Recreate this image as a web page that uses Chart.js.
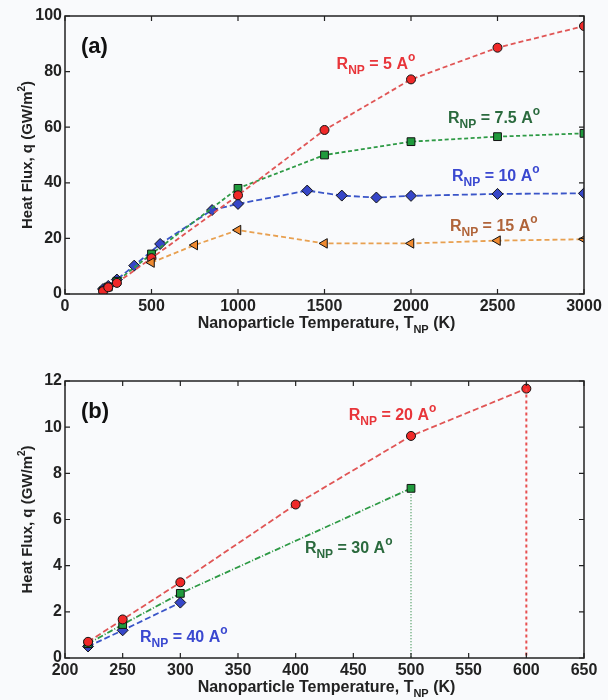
<!DOCTYPE html>
<html>
<head>
<meta charset="utf-8">
<script src="https://cdn.jsdelivr.net/npm/chart.js@4"></script>
<style>
  body { margin:0; background:#f9fafc; }
  .panel { position:absolute; left:0; width:608px; }
  canvas { display:block; }
</style>
</head>
<body>
<div class="panel" style="top:0;height:340px"><canvas id="chartA" width="608" height="340"></canvas></div>
<div class="panel" style="top:340px;height:360px"><canvas id="chartB" width="608" height="360"></canvas></div>
<script>
// ----------------- DATA (a) -----------------
const aTicksX = [0, 500, 1000, 1500, 2000, 2500, 3000];
const aTicksY = [0, 20, 40, 60, 80, 100];

const a5T  = [220, 250, 300, 500, 1000, 1500, 2000, 2500, 3000];
const a5Q  = [1.0, 2.4, 4.0, 12.9, 35.5, 59.0, 77.2, 88.6, 96.4];
const a75T = [220, 250, 300, 500, 1000, 1500, 2000, 2500, 3000];
const a75Q = [1.1, 2.5, 4.6, 14.4, 38.0, 50.0, 54.8, 56.6, 57.8];
const a10T = [220, 250, 300, 400, 550, 850, 1000, 1400, 1600, 1800, 2000, 2500, 3000];
const a10Q = [1.8, 2.9, 5.2, 10.2, 18.0, 30.2, 32.4, 37.2, 35.4, 34.7, 35.3, 36.0, 36.2];
const a15T = [500, 750, 1000, 1500, 2000, 2500, 3000];
const a15Q = [11.3, 17.6, 23.0, 18.2, 18.2, 19.2, 19.7];

// ----------------- DATA (b) -----------------
const bTicksX = [200, 250, 300, 350, 400, 450, 500, 550, 600, 650];
const bTicksY = [0, 2, 4, 6, 8, 10, 12];

const b20T = [220, 250, 300, 400, 500, 600];
const b20Q = [0.70, 1.67, 3.28, 6.65, 9.62, 11.67];
const b30T = [220, 250, 300, 500];
const b30Q = [0.62, 1.45, 2.80, 7.35];
const b40T = [220, 250, 300];
const b40Q = [0.50, 1.20, 2.40];

const pts = (xs, ys) => xs.map((x, i) => ({ x: x, y: ys[i] }));
// linea vertical desde el ultimo punto hasta el eje
const drop = (xs, ys) => [{ x: xs[xs.length-1], y: ys[ys.length-1] }, { x: xs[xs.length-1], y: 0 }];

const FONT = '"Liberation Sans", Arial, sans-serif';

// ----------------- PLUGIN: marco, ticks internos, textos -----------------
function rich(ctx, x, y, parts, color){
  ctx.save();
  ctx.fillStyle = color;
  ctx.textBaseline = 'alphabetic';
  ctx.textAlign = 'left';
  let cx = x;
  parts.forEach(p => {
    ctx.font = 'bold ' + p[1] + 'px ' + FONT;
    ctx.fillText(p[0], cx, y + (p[2] || 0));
    cx += ctx.measureText(p[0]).width;
  });
  ctx.restore();
  return cx - x;
}
function richWidth(ctx, parts){
  let w = 0;
  parts.forEach(p => { ctx.font = 'bold ' + p[1] + 'px ' + FONT; w += ctx.measureText(p[0]).width; });
  return w;
}

const framePlugin = {
  id: 'frame',
  afterDraw(chart, args, opts){
    const ctx = chart.ctx, ca = chart.chartArea;
    const sx = chart.scales.x, sy = chart.scales.y;
    ctx.save();
    ctx.strokeStyle = '#222';
    ctx.lineWidth = 1.5;
    ctx.strokeRect(ca.left, ca.top, ca.right - ca.left, ca.bottom - ca.top);
    ctx.lineWidth = 1.2;
    ctx.beginPath();
    opts.ticksX.forEach(v => {
      const px = sx.getPixelForValue(v);
      ctx.moveTo(px, ca.bottom); ctx.lineTo(px, ca.bottom - 5);
      ctx.moveTo(px, ca.top); ctx.lineTo(px, ca.top + 5);
    });
    opts.ticksY.forEach(v => {
      const py = sy.getPixelForValue(v);
      ctx.moveTo(ca.left, py); ctx.lineTo(ca.left + 5, py);
      ctx.moveTo(ca.right, py); ctx.lineTo(ca.right - 5, py);
    });
    ctx.stroke();
    ctx.restore();

    // titulo eje x
    const xt = [['Nanoparticle Temperature, T', 16], ['NP', 11, 5], [' (K)', 16]];
    const wx = richWidth(ctx, xt);
    rich(ctx, (ca.left + ca.right)/2 - wx/2 + 2, ca.bottom + opts.xTitleDy, xt, '#222');

    // titulo eje y
    const yt = [['Heat Flux, q (GW/m', 15], ['2', 10, -7], [')', 15]];
    const wy = richWidth(ctx, yt);
    ctx.save();
    ctx.translate(32, (ca.top + ca.bottom)/2);
    ctx.rotate(-Math.PI/2);
    rich(ctx, -wy/2, 0, yt, '#222');
    ctx.restore();

    // etiqueta del panel
    rich(ctx, ca.left + 16, ca.top + opts.tagDy, [[opts.tag, 22]], '#111');

    // anotaciones R_NP
    opts.notes.forEach(n => {
      const px = sx.getPixelForValue(n.x), py = sy.getPixelForValue(n.y);
      rich(ctx, px, py, [['R', 16], ['NP', 12, 5], [' = ' + n.txt + ' A', 16], ['o', 12, -8]], n.color);
    });
  }
};

function serie(data, color, edge, style, rot, r, dash){
  return {
    data: data,
    borderColor: color,
    backgroundColor: edge,
    pointBackgroundColor: edge,
    pointBorderColor: '#111',
    pointBorderWidth: 1,
    pointStyle: style,
    pointRotation: rot,
    pointRadius: r,
    borderWidth: 1.8,
    borderDash: dash,
    showLine: true,
    tension: 0
  };
}
function linea(data, color, dash, w){
  return { data: data, borderColor: color, borderDash: dash, borderWidth: w, pointRadius: 0, showLine: true, tension: 0 };
}

function opciones(xMin, xMax, xStep, yMin, yMax, yStep, padTop, xH, plug){
  const tickFont = { family: FONT, size: 16, weight: 'bold' };
  return {
    responsive: false,
    animation: false,
    layout: { padding: { left: 0, right: 24, top: padTop, bottom: 0 } },
    plugins: { legend: { display: false }, tooltip: { enabled: false }, frame: plug },
    scales: {
      x: {
        type: 'linear', min: xMin, max: xMax,
        grid: { display: false, drawTicks: false, tickLength: 0 }, border: { display: false },
        ticks: { stepSize: xStep, padding: 3, color: '#222', font: tickFont, maxRotation: 0, callback: v => String(v) },
        afterFit: s => { s.height = xH; }
      },
      y: {
        min: yMin, max: yMax,
        grid: { display: false, drawTicks: false, tickLength: 0 }, border: { display: false },
        ticks: { stepSize: yStep, padding: 3, color: '#222', font: tickFont, callback: v => String(v) },
        afterFit: s => { s.width = 65; }
      }
    }
  };
}

// ----------------- GRAFICO (a) -----------------
new Chart(document.getElementById('chartA'), {
  type: 'scatter',
  data: {
    datasets: [
      serie(pts(a15T, a15Q), '#e8a050', '#f08a30', 'triangle', -90, 5.5, [5, 3]),
      serie(pts(a5T, a5Q), '#e05555', '#f02828', 'circle', 0, 4.5, [5, 3]),
      serie(pts(a75T, a75Q), '#2e9a45', '#1f9a3c', 'rect', 0, 5.5, [4, 2.5]),
      serie(pts(a10T, a10Q), '#3a55c8', '#3646c8', 'rectRot', 0, 5.5, [6, 3])
    ]
  },
  options: opciones(0, 3000, 500, 0, 100, 20, 16, 46, {
    ticksX: aTicksX, ticksY: aTicksY, tag: '(a)', tagDy: 37, xTitleDy: 34,
    notes: [
      { x: 1570, y: 81, txt: '5', color: '#e8353a' },
      { x: 2214, y: 61.5, txt: '7.5', color: '#2b6a3e' },
      { x: 2237, y: 40.5, txt: '10', color: '#3a48d0' },
      { x: 2225, y: 22.5, txt: '15', color: '#b0643a' }
    ]
  }),
  plugins: [framePlugin]
});

// ----------------- GRAFICO (b) -----------------
new Chart(document.getElementById('chartB'), {
  type: 'scatter',
  data: {
    datasets: [
      linea(drop(b20T, b20Q), '#e85050', [3, 3], 2),
      linea(drop(b30T, b30Q), '#2e8a45', [1, 2], 1.2),
      serie(pts(b20T, b20Q), '#e05555', '#f02828', 'circle', 0, 4.5, [6, 3]),
      serie(pts(b30T, b30Q), '#2e9a45', '#1f9a3c', 'rect', 0, 5.5, [6, 2, 1, 2]),
      serie(pts(b40T, b40Q), '#3a55c8', '#3646c8', 'rectRot', 0, 5.5, [6, 3])
    ]
  },
  options: opciones(200, 650, 50, 0, 12, 2, 41, 42, {
    ticksX: bTicksX, ticksY: bTicksY, tag: '(b)', tagDy: 37, xTitleDy: 34,
    notes: [
      { x: 446, y: 10.3, txt: '20', color: '#e8353a' },
      { x: 408, y: 4.55, txt: '30', color: '#2b6a3e' },
      { x: 265, y: 0.7, txt: '40', color: '#3a48d0' }
    ]
  }),
  plugins: [framePlugin]
});
</script>
</body>
</html>
